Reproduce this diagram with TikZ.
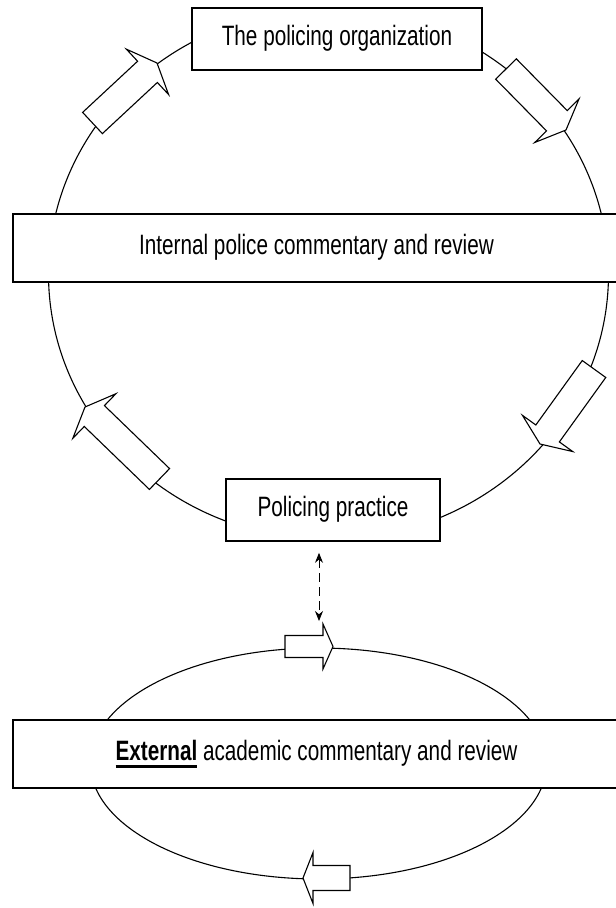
\documentclass[tikz,border=0pt]{standalone}
\usepackage{fontspec}
\setmainfont{Liberation Sans}
\usepackage{graphicx}
\usetikzlibrary{calc, arrows.meta}
\newcommand{\squeeze}[1]{\scalebox{0.74}[1]{#1}}
\newcommand{\thickul}[1]{\setbox0\hbox{#1}\rlap{\rule[-7pt]{\wd0}{3pt}}\box0\relax}
\newcommand{\blockarrow}[5]{%
  \coordinate (hb) at ($(#2)!#5!(#1)$);
  \draw[arrowbox] ($(#1)!#3!90:(#2)$) -- ($(hb)!#3!90:(#2)$) -- ($(hb)!#4!90:(#2)$) -- (#2)
    -- ($(hb)!#4!-90:(#2)$) -- ($(hb)!#3!-90:(#2)$) -- ($(#1)!#3!-90:(#2)$) -- cycle;}

\begin{document}
\begin{tikzpicture}[x=1pt,y=-1pt,
  cycleline/.style={line width=1.1pt},
  arrowbox/.style={draw,fill=white,line width=1.1pt,line join=miter},
  labelbox/.style={draw,fill=white,line width=1.6pt,inner sep=0pt,text height=20pt,text depth=7pt,font=\fontsize{28}{32}\selectfont}]
    \useasboundingbox (0,0) rectangle (616,908);
    \clip (0,0) rectangle (616,908);
    \draw[cycleline] (328.5,274) ellipse [x radius=280, y radius=265.5];%内側の輪
    \draw[cycleline] (318.5,763.5) ellipse [x radius=228, y radius=115.5];%外側の輪
    \coordinate (ulT) at (92.5,123); \coordinate (ulP) at (157,63);
    \coordinate (urT) at (506,69); \coordinate (urP) at (566,130);
    \coordinate (lrT) at (594,369); \coordinate (lrP) at (540,444);
    \coordinate (llT) at (159.5,479); \coordinate (llP) at (85,407);
    \blockarrow{ulT}{ulP}{14.5pt}{31pt}{13pt}
    \blockarrow{urT}{urP}{14.5pt}{31pt}{13pt}
    \blockarrow{lrT}{lrP}{14.5pt}{31pt}{13pt}
    \blockarrow{llT}{llP}{14.5pt}{31pt}{13pt}
    \coordinate (etT) at (285,646.5); \coordinate (etP) at (333,646.5);
    \coordinate (ebT) at (350,878); \coordinate (ebP) at (303,878);
    \blockarrow{etT}{etP}{11pt}{22.5pt}{10pt}
    \blockarrow{ebT}{ebP}{12.5pt}{25.5pt}{10pt}
    \node[labelbox, minimum width=290pt, minimum height=62pt] (org) at (337,39) {\squeeze{The policing organization}};
    \node[labelbox, minimum width=607pt, minimum height=68pt] (internal) at (316.5,248) {\squeeze{Internal police commentary and review}};
    \node[labelbox, minimum width=214pt, minimum height=62pt] (practice) at (333,510) {\squeeze{Policing practice}};
    \node[labelbox, minimum width=607pt, minimum height=68pt] (external) at (316.5,754) {\squeeze{\thickul{\textbf{External}} academic commentary and review}};
    \coordinate (dtop) at ($(practice.south)+(-14,11)$);
    \coordinate (dbot) at (319,621);
    \draw[dashed, dash pattern=on 9pt off 5pt, line width=1pt, {Stealth[length=10pt,width=8pt]}-{Stealth[length=10pt,width=8pt]}] (dtop) -- (dbot);%点線の矢印
\end{tikzpicture}
\end{document}
